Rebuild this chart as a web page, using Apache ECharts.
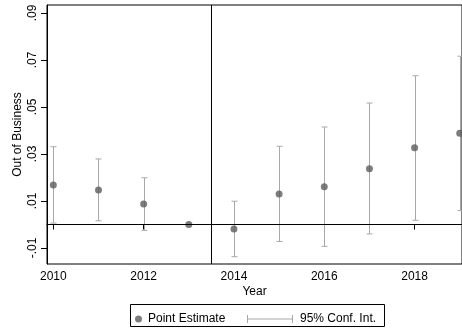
<!DOCTYPE html>
<html><head><meta charset="utf-8">
<script src="https://cdn.jsdelivr.net/npm/echarts@6/dist/echarts.min.js"></script>
<style>html,body{margin:0;padding:0;background:#fff}#c{width:462px;height:333px}</style>
</head><body><div id="c"></div>
<script>
var years = [2010, 2011, 2012, 2013, 2014, 2015, 2016, 2017, 2018, 2019];
var estimate = [0.0168, 0.0147, 0.0087, 0.0000, -0.0019, 0.0130, 0.0161, 0.0237, 0.0327, 0.0388];
var ciUpper = [0.0331, 0.0279, 0.0199, 0.0000, 0.0099, 0.0333, 0.0415, 0.0517, 0.0633, 0.0716];
var ciLower = [0.0006, 0.0016, -0.0025, 0.0000, -0.0137, -0.0072, -0.0093, -0.0040, 0.0018, 0.0059];
var yTicks = [-0.01, 0.01, 0.03, 0.05, 0.07, 0.09];
var xTicks = [2010, 2012, 2014, 2016, 2018];
var treatYear = 2013.5;

var font = 'Liberation Sans, Arial, sans-serif';
var chart = echarts.init(document.getElementById('c'), null, {renderer: 'canvas'});
function fmtY(v) {
  var s = (Math.round(v * 100) / 100).toFixed(2);
  return s.replace('0.', '.');
}
var ciData = years.map(function (y, i) { return [y, ciLower[i], ciUpper[i]]; });
var ptData = years.map(function (y, i) { return [y, estimate[i]]; });

chart.setOption({
  animation: false,
  grid: {left: 47, right: 0, top: 5, bottom: 69, show: true, borderColor: '#000', borderWidth: 1},
  xAxis: {
    type: 'value', min: 2009.86, max: 2019.05,
    name: 'Year', nameLocation: 'middle', nameGap: 22, nameMoveOverlap: false,
    nameTextStyle: {fontFamily: font, fontSize: 12, color: '#000'},
    axisLine: {show: true, lineStyle: {color: '#000'}},
    axisTick: {show: true, length: 5, lineStyle: {color: '#000'}, customValues: xTicks},
    axisLabel: {fontFamily: font, fontSize: 12, color: '#000', margin: 7, customValues: xTicks, formatter: function (v) { return String(v); }},
    splitLine: {show: false}
  },
  yAxis: {
    type: 'value', min: -0.0168, max: 0.0934,
    name: 'Out of Business', nameLocation: 'middle', nameGap: 23, nameMoveOverlap: false,
    nameTextStyle: {fontFamily: font, fontSize: 12, color: '#000'},
    axisLine: {show: true, lineStyle: {color: '#000'}},
    axisTick: {show: true, length: 6, lineStyle: {color: '#000'}, customValues: yTicks},
    axisLabel: {fontFamily: font, fontSize: 12, color: '#000', rotate: 90, margin: 8, customValues: yTicks, formatter: fmtY},
    splitLine: {show: false}
  },
  legend: [{
    data: [{name: 'Point Estimate', icon: 'circle'}],
    left: 130, top: 308, itemWidth: 7, itemHeight: 7, itemGap: 0,
    textStyle: {fontFamily: font, fontSize: 12, color: '#000', padding: [0, 0, 0, 1]}
  }, {
    data: [{name: '95% Conf. Int.', icon: 'path://M0,0h1v8h-1z M0,3.5h46v1h-46z M45,0h1v8h-1z'}],
    left: 242, top: 308, itemWidth: 46, itemHeight: 8,
    textStyle: {fontFamily: font, fontSize: 12, color: '#000', padding: [0, 0, 0, 2]}
  }],
  graphic: [{
    type: 'rect', shape: {x: 130.5, y: 304.5, width: 254, height: 22},
    style: {fill: 'none', stroke: '#000', lineWidth: 1}, silent: true, z: -1
  }],
  series: [{
    name: '95% Conf. Int.', type: 'custom', data: ciData, clip: false,
    itemStyle: {color: '#a8a8a8'},
    encode: {x: 0, y: [1, 2]},
    renderItem: function (params, api) {
      var x = api.value(0);
      var lo = api.coord([x, api.value(1)]);
      var hi = api.coord([x, api.value(2)]);
      var w = 3;
      var st = {stroke: '#a8a8a8', lineWidth: 1};
      var cx = Math.round(lo[0]) + 0.5;
      return {type: 'group', children: [
        {type: 'line', shape: {x1: cx, y1: lo[1], x2: cx, y2: hi[1]}, style: st},
        {type: 'line', shape: {x1: cx - w, y1: lo[1], x2: cx + w, y2: lo[1]}, style: st},
        {type: 'line', shape: {x1: cx - w, y1: hi[1], x2: cx + w, y2: hi[1]}, style: st}
      ]};
    }
  }, {
    name: 'Point Estimate', type: 'scatter', data: ptData, symbolSize: 7,
    itemStyle: {color: '#5c5c5c'}, z: 3,
    markLine: {
      silent: true, symbol: 'none', label: {show: false},
      lineStyle: {color: '#000', type: 'solid', width: 1},
      data: [{yAxis: 0}, {xAxis: treatYear}]
    }
  }]
});
</script></body></html>
